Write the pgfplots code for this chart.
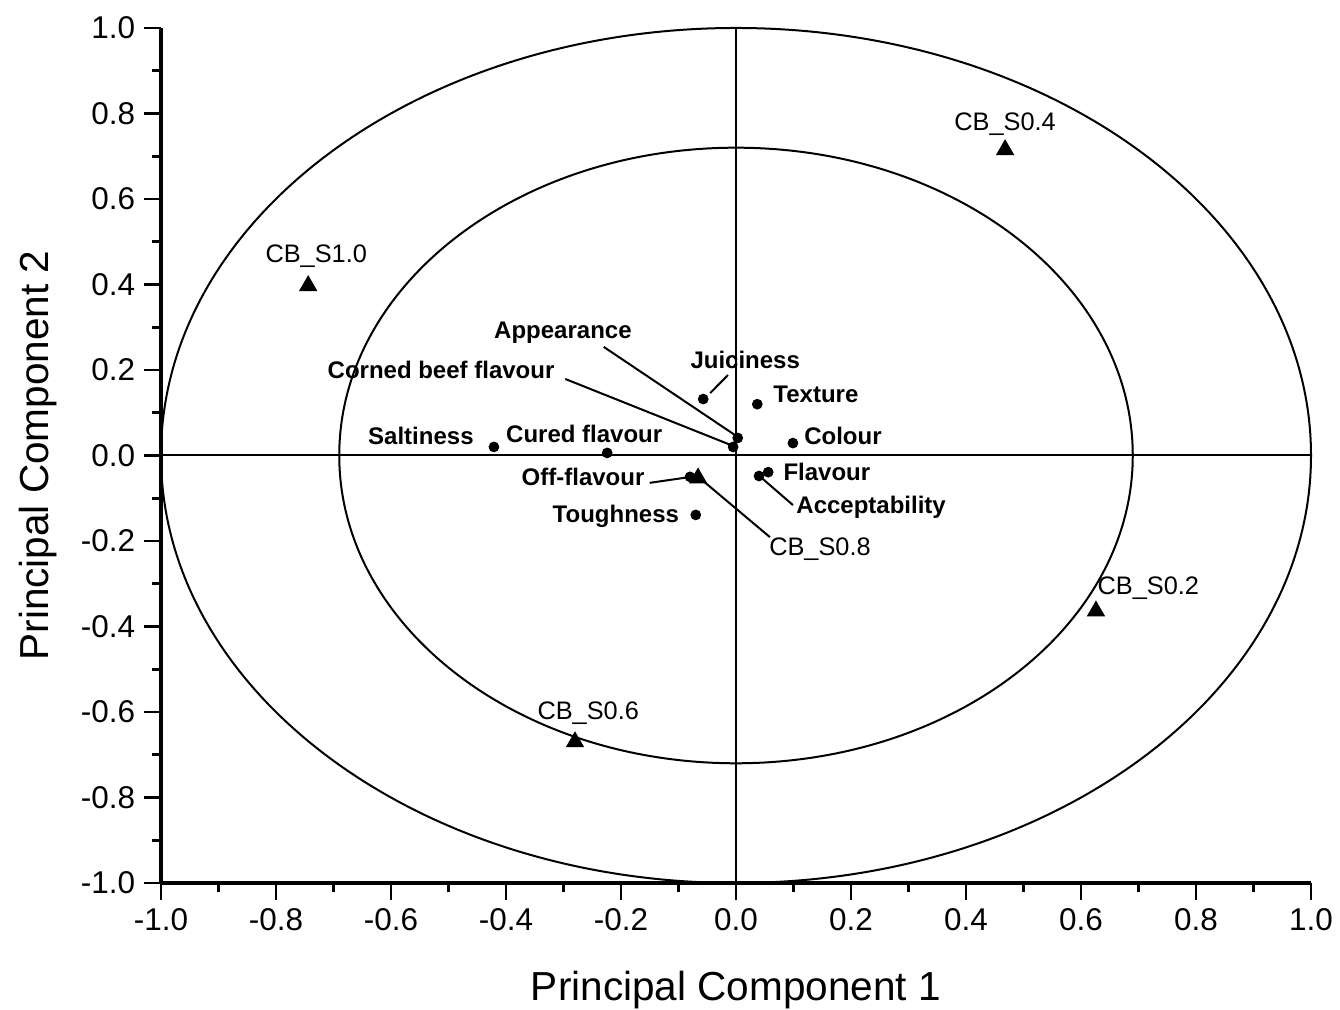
\documentclass[border=0pt]{standalone}
\usepackage{fontspec}
\setmainfont{Liberation Sans}
\usepackage{pgfplots}
\pgfplotsset{compat=1.18}
\begin{document}
\begin{tikzpicture}
\begin{axis}[
  scale only axis, width=431.25pt, height=320.625pt,
  xmin=-1, xmax=1, ymin=-1, ymax=1,
  clip=false,
  axis x line*=bottom, axis y line*=left,
  axis line style={line width=1.4pt},
  tick align=outside, major tick length=6.2pt, minor tick length=3.4pt,
  every tick/.style={line width=1.1pt, black},
  xtick={-1,-0.8,-0.6,-0.4,-0.2,0,0.2,0.4,0.6,0.8,1},
  ytick={-1,-0.8,-0.6,-0.4,-0.2,0,0.2,0.4,0.6,0.8,1},
  minor tick num=1,
  xticklabel style={/pgf/number format/.cd, fixed, fixed zerofill, precision=1, assume math mode=true},
  yticklabel style={/pgf/number format/.cd, fixed, fixed zerofill, precision=1, assume math mode=true},
  ticklabel style={font=\fontsize{11.8}{13}\selectfont},
  xlabel={Principal Component 1}, ylabel={Principal Component 2},
  label style={font=\fontsize{15.2}{17}\selectfont},
  xlabel style={at={(axis description cs:0.5,-0.125)}, anchor=center},
  ylabel style={at={(axis description cs:-0.107,0.5)}, anchor=center},
]
% cross lines
\addplot[black, line width=0.75pt] coordinates {(-1,0) (1,0)};
\addplot[black, line width=0.75pt] coordinates {(0,-1) (0,1)};
% circles
\draw[line width=0.75pt] (axis cs:0,0) ellipse [x radius=1, y radius=1];
\draw[line width=0.75pt] (axis cs:0,0) ellipse [x radius=0.69, y radius=0.72];
% leader lines
\addplot[black, line width=0.75pt] coordinates {(-0.230,0.254) (-0.002,0.048)};
\addplot[black, line width=0.75pt] coordinates {(-0.297,0.179) (-0.010,0.025)};
\addplot[black, line width=0.75pt] coordinates {(-0.014,0.188) (-0.045,0.146)};
\addplot[black, line width=0.75pt] coordinates {(-0.150,-0.064) (-0.078,-0.050)};
\addplot[black, line width=0.75pt] coordinates {(-0.063,-0.053) (0.059,-0.191)};
\addplot[black, line width=0.75pt] coordinates {(0.045,-0.053) (0.099,-0.116)};
% attribute loadings
\addplot[only marks, mark=*, mark size=1.8pt, black] coordinates {
  (-0.057,0.132) (0.037,0.120) (0.003,0.041) (-0.005,0.020) (0.099,0.029)
  (-0.421,0.020) (-0.224,0.006) (-0.080,-0.050) (0.056,-0.039) (0.040,-0.048)
  (-0.070,-0.139)};
% sample scores
\addplot[only marks, mark=triangle*, mark size=3.6pt, black] coordinates {
  (-0.066,-0.053) (0.468,0.715) (-0.744,0.397) (0.626,-0.364) (-0.280,-0.670)};
% labels
\begin{scope}[every node/.style={font=\bfseries\fontsize{9}{10}\selectfont, inner sep=0pt}]
\node at (axis cs:-0.301,0.286) {Appearance};
\node at (axis cs:-0.513,0.200) {Corned beef flavour};
\node at (axis cs:0.016,0.223) {Juiciness};
\node at (axis cs:0.139,0.144) {Texture};
\node at (axis cs:-0.548,0.045) {Saltiness};
\node at (axis cs:-0.264,0.050) {Cured flavour};
\node at (axis cs:0.186,0.046) {Colour};
\node at (axis cs:-0.266,-0.050) {Off-flavour};
\node at (axis cs:0.158,-0.039) {Flavour};
\node at (axis cs:0.235,-0.121) {Acceptability};
\node at (axis cs:-0.209,-0.143) {Toughness};
\end{scope}
\begin{scope}[every node/.style={font=\fontsize{9.5}{11}\selectfont, inner sep=0pt}]
\node at (axis cs:0.146,-0.219) {CB\_S0.8};
\node at (axis cs:0.468,0.775) {CB\_S0.4};
\node at (axis cs:-0.730,0.466) {CB\_S1.0};
\node at (axis cs:0.717,-0.310) {CB\_S0.2};
\node at (axis cs:-0.257,-0.602) {CB\_S0.6};
\end{scope}
\end{axis}
\pgfresetboundingbox
\path[use as bounding box] ([shift={(-60.375pt,-47.625pt)}]current axis.south west) rectangle ([shift={(442.125pt,331.125pt)}]current axis.south west);
\end{tikzpicture}
\end{document}
